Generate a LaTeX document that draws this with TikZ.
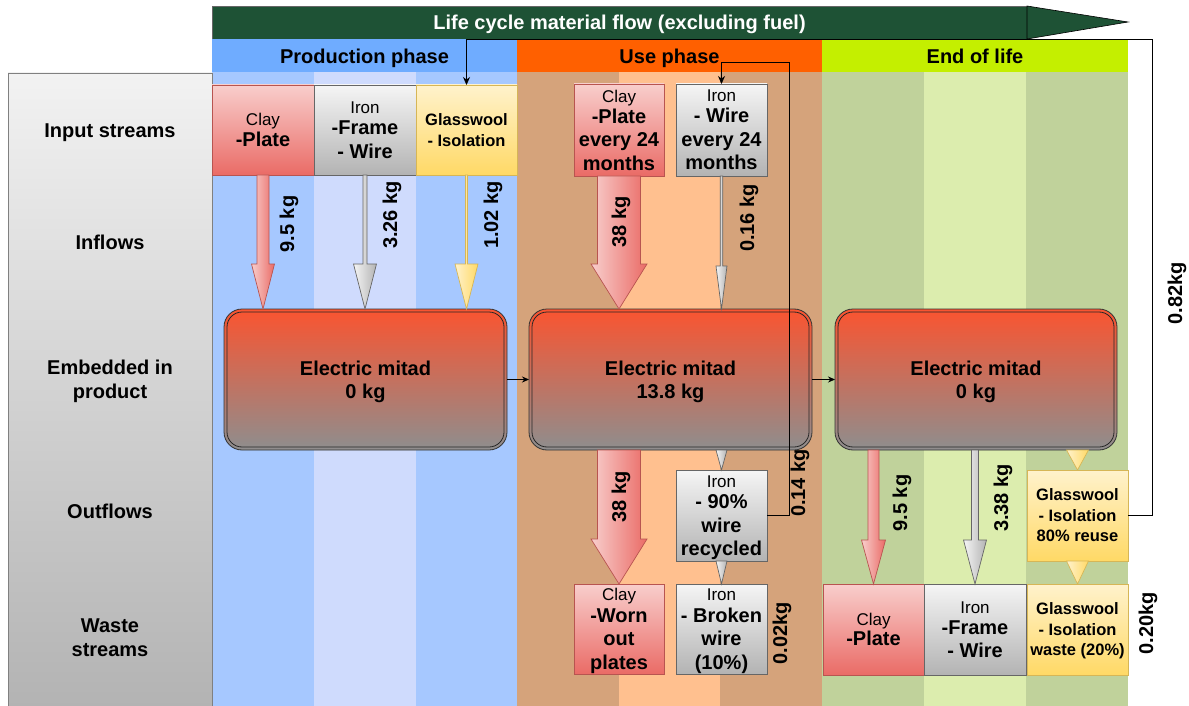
\documentclass[tikz,border=0pt]{standalone}
\usepackage{fontspec}
\setmainfont{Liberation Sans}
\usetikzlibrary{calc,arrows.meta}
\definecolor{prodH}{HTML}{6FACFF}
\definecolor{useH}{HTML}{FF6000}
\definecolor{eolH}{HTML}{C4EF00}
\definecolor{pcA}{HTML}{A6C8FF}
\definecolor{pcB}{HTML}{CFDBFD}
\definecolor{ucA}{HTML}{D5A37B}
\definecolor{ucB}{HTML}{FFC08F}
\definecolor{ecA}{HTML}{C0D29B}
\definecolor{ecB}{HTML}{DCEDAE}
\definecolor{bannerG}{HTML}{1E5235}
\definecolor{redT}{HTML}{F8CECC}
\definecolor{redB}{HTML}{EA6B66}
\definecolor{redL}{HTML}{B85450}
\definecolor{grayT}{HTML}{F5F5F5}
\definecolor{grayB}{HTML}{B3B3B3}
\definecolor{grayL}{HTML}{666666}
\definecolor{yelT}{HTML}{FFF2CC}
\definecolor{yelB}{HTML}{FFD966}
\definecolor{yelL}{HTML}{D6B656}
\definecolor{bigT}{HTML}{FA5430}
\definecolor{bigB}{HTML}{8E8E8E}
\definecolor{lcT}{HTML}{F2F2F2}
\definecolor{lcB}{HTML}{B3B3B3}
\newcommand\myfs[2]{\fontsize{#1}{#2}\selectfont}
\newcommand\smallt{\fontsize{17}{20}\selectfont\mdseries}
\newcommand\fatarrow[6]{\path[#1] let \p1=(#2), \p2=(#3) in (\x1-#4,\y1) -- (\x1+#4,\y1) -- (\x1+#4,\y2+#6) -- (\x1+#5,\y2+#6) -- (\x1,\y2) -- (\x1-#5,\y2+#6) -- (\x1-#4,\y2+#6) -- cycle;}
\newcommand\headarrow[4]{\path[#1] let \p1=(#2), \p2=(#3) in (\x1-#4,\y1) -- (\x1+#4,\y1) -- (\x1,\y2) -- cycle;}
\tikzset{
  box/.style={draw, line width=0.8pt, inner sep=0pt, outer sep=0pt, anchor=north west, align=center, text depth=0pt, font=\myfs{20}{23.5}\bfseries},
  redbox/.style={box, draw=redL, top color=redT, bottom color=redB},
  graybox/.style={box, draw=grayL, top color=grayT, bottom color=grayB},
  yelbox/.style={box, draw=yelL, top color=yelT, bottom color=yelB, font=\myfs{16.5}{20.5}\bfseries},
  bigbox/.style={box, draw=black!80, rounded corners=18pt, top color=bigT, bottom color=bigB, text depth=-1.5pt, font=\myfs{20}{23}\bfseries},
  hdr/.style={anchor=north west, inner sep=0pt, outer sep=0pt, minimum height=33pt, text height=17pt, text depth=0pt, font=\myfs{20}{24}\bfseries},
  lbl/.style={align=center, font=\myfs{20}{24}\bfseries, inner sep=1pt},
  qty/.style={rotate=90, font=\myfs{20}{24}\bfseries, inner sep=1pt},
  redarrow/.style={draw=redL, line width=0.7pt, left color=redT, right color=redB},
  grayarrow/.style={draw=grayL, line width=0.7pt, left color=grayT, right color=grayB},
  yelarrow/.style={draw=yelL, line width=0.7pt, left color=yelT, right color=yelB},
  conn/.style={draw=black, line width=0.8pt, -{Stealth[length=8pt,width=7pt]}},
  inner2/.style={draw=black!85, line width=0.8pt, rounded corners=15pt},
}
\begin{document}
\begin{tikzpicture}[x=1pt,y=-1pt]
\useasboundingbox (0,0) rectangle (1189,706);
% column backgrounds
\fill[pcA] (212,72) rectangle (314,706);
\fill[pcB] (314,72) rectangle (416,706);
\fill[pcA] (416,72) rectangle (517,706);
\fill[ucA] (517,72) rectangle (619,706);
\fill[ucB] (619,72) rectangle (720,706);
\fill[ucA] (720,72) rectangle (822,706);
\fill[ecA] (822,72) rectangle (924,706);
\fill[ecB] (924,72) rectangle (1026,706);
\fill[ecA] (1026,72) rectangle (1128,706);
% banner
\node[hdr, fill=bannerG, draw=black!60, line width=0.6pt, minimum width=815pt, text height=15pt, text=white] (banner) at (212,6) {Life cycle material flow (excluding fuel)};
\path[fill=bannerG, draw=black, line width=0.6pt] (banner.north east) -- (1128,22) -- (banner.south east) -- cycle;
% phase headers
\node[hdr, fill=prodH, minimum width=305pt] (hProd) at (212,39) {Production phase};
\node[hdr, fill=useH, minimum width=305pt] (hUse) at (517,39) {Use phase};
\node[hdr, fill=eolH, minimum width=306pt] (hEol) at (822,39) {End of life};
% left column
\node[box, draw=black!50, top color=lcT, bottom color=lcB, minimum width=204pt, minimum height=634pt] (lcol) at (8,73) {};
\node[lbl] (lIn) at (110,133) {Input streams};
\node[lbl] (lInf) at (110,242) {Inflows};
\node[lbl] (lEmb) at (110,381) {Embedded in\\product};
\node[lbl] (lOut) at (110,511) {Outflows};
\node[lbl] (lWas) at (110,638) {Waste\\streams};
% production input streams
\node[redbox, minimum width=102pt, minimum height=90pt] (clayP) at (212,85) {{\smallt Clay}\\[-2pt]-Plate};
\node[graybox, minimum width=102pt, minimum height=90pt] (ironP) at (314,85) {{\smallt Iron}\\[-2.5pt]-Frame\\- Wire};
\node[yelbox, minimum width=101pt, minimum height=90pt] (glassP) at (416,85) {Glasswool\\- Isolation};
% use input streams
\node[redbox, minimum width=90pt, minimum height=92pt] (clayU) at (574,84) {{\smallt Clay}\\[-2.5pt]-Plate\\every 24\\months};
\node[graybox, minimum width=91pt, minimum height=92pt] (ironU) at (676,84) {{\smallt Iron}\\[-2.5pt]- Wire\\every 24\\months};
% embedded
\node[bigbox, minimum width=283pt, minimum height=141pt] (prodB) at (224,309) {Electric mitad\\0 kg};
\node[bigbox, minimum width=283pt, minimum height=141pt] (useB) at (529,309) {Electric mitad\\13.8 kg};
\node[bigbox, minimum width=282pt, minimum height=141pt] (eolB) at (835,309) {Electric mitad\\0 kg};
\foreach \n in {prodB,useB,eolB}
  \draw[inner2] ([shift={(3,3)}]\n.north west) rectangle ([shift={(-3,-3)}]\n.south east);
% use outflow / waste
\node[graybox, minimum width=91pt, minimum height=91pt] (recyc) at (676,470) {{\smallt Iron}\\[-2pt]- 90\%\\wire\\recycled};
\node[redbox, minimum width=90pt, minimum height=90pt] (wornU) at (574,584) {{\smallt Clay}\\[-2pt]-Worn\\out\\plates};
\node[graybox, minimum width=91pt, minimum height=90pt] (brokU) at (676,584) {{\smallt Iron}\\[-2pt]- Broken\\wire\\(10\%)};
% eol outflow / waste
\node[yelbox, minimum width=101pt, minimum height=91pt] (reuse) at (1027,470) {Glasswool\\- Isolation\\80\% reuse};
\node[redbox, minimum width=101pt, minimum height=91pt] (clayE) at (823,584) {{\smallt Clay}\\[-3pt]-Plate};
\node[graybox, minimum width=102pt, minimum height=91pt] (ironE) at (924,584) {{\smallt Iron}\\[-2.5pt]-Frame\\- Wire};
\node[yelbox, minimum width=101pt, minimum height=91pt] (wasteG) at (1027,584) {Glasswool\\- Isolation\\waste (20\%)};
% inflow arrows
\fatarrow{redarrow}{clayP.south}{clayP.south |- prodB.north}{6pt}{11.5pt}{45pt}
\fatarrow{grayarrow}{ironP.south}{ironP.south |- prodB.north}{2pt}{11.5pt}{45pt}
\fatarrow{yelarrow}{glassP.south}{glassP.south |- prodB.north}{1pt}{11.5pt}{45pt}
\fatarrow{redarrow}{clayU.south}{clayU.south |- useB.north}{21.5pt}{28pt}{45pt}
\fatarrow{grayarrow}{ironU.south}{ironU.south |- useB.north}{1.2pt}{5.5pt}{43pt}
% outflow arrows
\fatarrow{redarrow}{wornU.north |- useB.south}{wornU.north}{21.5pt}{28pt}{45pt}
\headarrow{grayarrow}{recyc.north |- useB.south}{recyc.north}{5.5pt}
\headarrow{grayarrow}{recyc.south}{brokU.north}{5.5pt}
\fatarrow{redarrow}{clayE.north |- eolB.south}{clayE.north}{5.5pt}{12pt}{44pt}
\fatarrow{grayarrow}{ironE.north |- eolB.south}{ironE.north}{3.5pt}{11.5pt}{44pt}
\headarrow{yelarrow}{reuse.north |- eolB.south}{reuse.north}{11pt}
\headarrow{yelarrow}{reuse.south}{wasteG.north}{11pt}
% connectors between phases
\draw[conn, -{Stealth[length=7pt,width=6pt]}] (prodB) -- (useB);
\draw[conn, -{Stealth[length=7pt,width=6pt]}] (useB) -- (eolB);
% loops
\coordinate (lpA) at (789,62);
\draw[conn] (recyc.east) -| (lpA) -| (ironU.north);
\coordinate (lpB) at (1152,39);
\draw[conn] (reuse.east) -| (lpB) -| (glassP.north);
% quantities
\node[qty] (q1) at (289,224) {9.5 kg};
\node[qty] (q2) at (392,215) {3.26 kg};
\node[qty] (q3) at (493,215) {1.02 kg};
\node[qty] (q4) at (621,222) {38 kg};
\node[qty] (q5) at (749,218) {0.16 kg};
\node[qty] (q6) at (621,497) {38 kg};
\node[qty] (q7) at (800,483) {0.14 kg};
\node[qty] (q8) at (782,633) {0.02kg};
\node[qty] (q9) at (902,503) {9.5 kg};
\node[qty] (q10) at (1003,498) {3.38 kg};
\node[qty] (q11) at (1148,623) {0.20kg};
\node[qty] (q12) at (1177,293) {0.82kg};
\end{tikzpicture}
\end{document}
